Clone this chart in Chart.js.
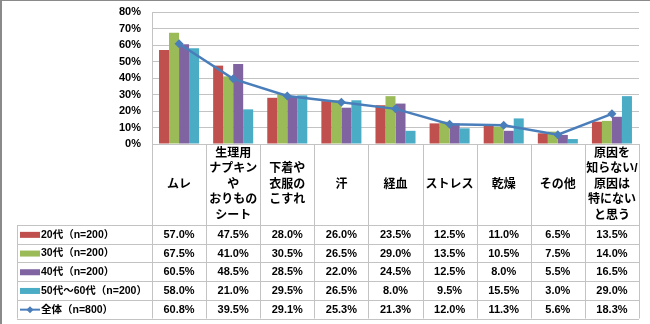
<!DOCTYPE html>
<html lang="ja">
<head>
<meta charset="utf-8">
<title>原因</title>
<script src="https://cdn.jsdelivr.net/npm/chart.js@4/dist/chart.umd.min.js"></script>
<style>
  html, body { margin: 0; padding: 0; background: #fff; }
  #wrap { width: 650px; height: 324px; }
</style>
</head>
<body>
<div id="wrap"><canvas id="chart" width="650" height="324"></canvas></div>
<script>
// categories (multi-line, as shown in the table header)
const categories = [
    ['ムレ'],
    ['生理用', 'ナプキン', 'や', 'おりもの', 'シート'],
    ['下着や', '衣服の', 'こすれ'],
    ['汗'],
    ['経血'],
    ['ストレス'],
    ['乾燥'],
    ['その他'],
    ['原因を', '知らない/', '原因は', '特にない', 'と思う']
];

const seriesNames = ['20代（n=200）', '30代（n=200）', '40代（n=200）', '50代～60代（n=200）', '全体（n=800）'];

const age20 = [57.0, 47.5, 28.0, 26.0, 23.5, 12.5, 11.0, 6.5, 13.5];
const age30 = [67.5, 41.0, 30.5, 26.5, 29.0, 13.5, 10.5, 7.5, 14.0];
const age40 = [60.5, 48.5, 28.5, 22.0, 24.5, 12.5, 8.0, 5.5, 16.5];
const age50to60 = [58.0, 21.0, 29.5, 26.5, 8.0, 9.5, 15.5, 3.0, 29.0];
const total = [60.8, 39.5, 29.1, 25.3, 21.3, 12.0, 11.3, 5.6, 18.3];

const yTicks = [0, 10, 20, 30, 40, 50, 60, 70, 80];

const colors = ['#C0504D', '#9BBB59', '#8064A2', '#4BACC6', '#4A7EBB'];
const gridColor = '#c3c3c3';
const jpFont = '"Liberation Sans", "Noto Sans CJK JP", sans-serif';

const rowTop = 225;
const rowHeight = 18.7;
const tableLeft = 17;

// data table under the plot, Excel style
const dataTablePlugin = {
    id: 'dataTable',
    afterDraw(chart) {
        const ctx = chart.ctx;
        const area = chart.chartArea;
        const xs = chart.scales.x;
        const half = (area.right - area.left) / categories.length / 2;
        const rows = chart.data.datasets;
        const tableBottom = rowTop + rowHeight * rows.length;

        ctx.save();
        ctx.strokeStyle = gridColor;
        ctx.lineWidth = 1;

        // vertical lines between categories
        ctx.beginPath();
        for (let i = 0; i <= categories.length; i++) {
            const x = Math.round(area.left + i * half * 2) + 0.5;
            ctx.moveTo(x, area.bottom);
            ctx.lineTo(x, tableBottom);
        }
        ctx.moveTo(tableLeft + 0.5, rowTop);
        ctx.lineTo(tableLeft + 0.5, tableBottom);
        for (let r = 0; r <= rows.length; r++) {
            const y = Math.round(rowTop + r * rowHeight) + 0.5;
            ctx.moveTo(tableLeft, y);
            ctx.lineTo(area.right, y);
        }
        ctx.stroke();

        // header
        ctx.fillStyle = '#000';
        ctx.textAlign = 'center';
        ctx.textBaseline = 'middle';
        ctx.font = 'bold 12px ' + jpFont;
        const headMid = (area.bottom + rowTop) / 2;
        const lineH = 15.5;
        categories.forEach((lines, i) => {
            const cx = xs.getPixelForTick(i);
            const y0 = headMid - (lines.length - 1) * lineH / 2;
            lines.forEach((t, k) => ctx.fillText(t, cx, y0 + k * lineH));
        });

        // rows: legend key, name, values
        rows.forEach((ds, r) => {
            const cy = rowTop + r * rowHeight + rowHeight / 2 + 0.5;
            if (ds.type === 'line') {
                ctx.strokeStyle = ds.borderColor;
                ctx.lineWidth = 2;
                ctx.beginPath();
                ctx.moveTo(20, cy);
                ctx.lineTo(40, cy);
                ctx.stroke();
                ctx.fillStyle = ds.borderColor;
                ctx.beginPath();
                ctx.moveTo(30, cy - 3.5);
                ctx.lineTo(33.5, cy);
                ctx.lineTo(30, cy + 3.5);
                ctx.lineTo(26.5, cy);
                ctx.closePath();
                ctx.fill();
            } else {
                ctx.fillStyle = ds.backgroundColor;
                ctx.fillRect(20, cy - 3, 20, 6);
            }
            ctx.fillStyle = '#000';
            ctx.textAlign = 'left';
            ctx.font = 'bold 10.5px ' + jpFont;
            ctx.fillText(ds.label, 41, cy);
            ctx.font = 'bold 11px ' + jpFont;
            ctx.textAlign = 'center';
            ds.data.forEach((v, i) => {
                ctx.fillText(v.toFixed(1) + '%', xs.getPixelForTick(i), cy);
            });
        });

        // outer frame (top and left)
        ctx.strokeStyle = '#8a8a8a';
        ctx.lineWidth = 1;
        ctx.beginPath();
        ctx.moveTo(0, 0.5);
        ctx.lineTo(650, 0.5);
        ctx.stroke();
        ctx.lineWidth = 2;
        ctx.beginPath();
        ctx.moveTo(1, 0);
        ctx.lineTo(1, 324);
        ctx.stroke();
        ctx.restore();
    }
};

const barSeries = [age20, age30, age40, age50to60].map((data, i) => ({
    type: 'bar',
    label: seriesNames[i],
    data: data,
    backgroundColor: colors[i],
    borderWidth: 0,
    categoryPercentage: 0.74,
    barPercentage: 1.0,
    order: 1
}));

const lineSeries = {
    type: 'line',
    label: seriesNames[4],
    data: total,
    borderColor: colors[4],
    backgroundColor: colors[4],
    borderWidth: 2.5,
    pointStyle: 'rectRot',
    pointRadius: 4.5,
    pointBorderWidth: 0,
    tension: 0,
    order: 0
};

new Chart(document.getElementById('chart'), {
    data: {
        labels: categories,
        datasets: [...barSeries, lineSeries]
    },
    plugins: [dataTablePlugin],
    options: {
        responsive: false,
        animation: false,
        devicePixelRatio: 1,
        layout: { padding: { top: 12, right: 11, left: 0, bottom: 0 } },
        plugins: {
            legend: { display: false },
            tooltip: { enabled: false }
        },
        scales: {
            x: {
                grid: { display: false },
                border: { display: true, color: gridColor },
                ticks: { display: false },
                afterFit(scale) { scale.height = 180; }
            },
            y: {
                min: 0,
                max: 80,
                afterBuildTicks(scale) { scale.ticks = yTicks.map(v => ({ value: v })); },
                grid: { color: gridColor, drawTicks: false },
                border: { display: true, color: gridColor },
                ticks: {
                    autoSkip: false,
                    padding: 11,
                    color: '#000',
                    font: { family: jpFont, size: 11, weight: 'bold' },
                    callback: v => v + '%'
                },
                afterFit(scale) {
                    scale.width = 152;
                    scale.paddingTop = 0;
                    scale.paddingBottom = 0;
                }
            }
        }
    }
});
</script>
</body>
</html>
